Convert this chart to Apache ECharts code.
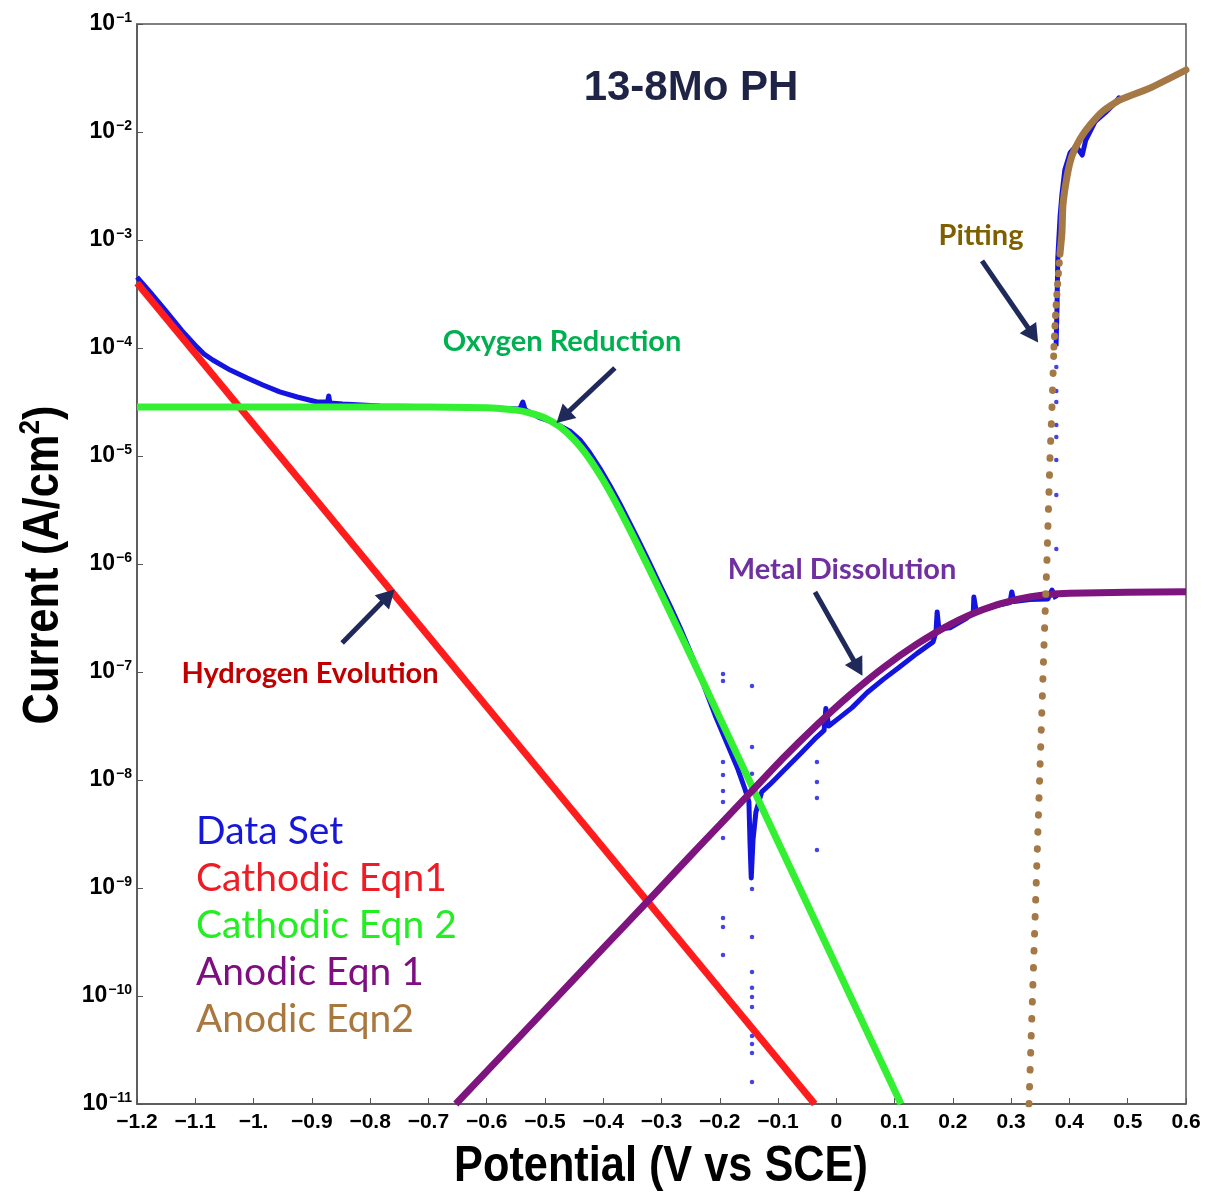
<!DOCTYPE html>
<html><head><meta charset="utf-8">
<script src="https://cdn.jsdelivr.net/npm/echarts@6/dist/echarts.min.js"></script>
<style>html,body{margin:0;padding:0;background:#fff}#c{width:1208px;height:1192px}</style>
</head><body><div id="c"></div>
<script>
// ---------- tick labels ----------
const xTickLabels = ['\u22121.2','\u22121.1','\u22121.','\u22120.9','\u22120.8','\u22120.7','\u22120.6','\u22120.5','\u22120.4','\u22120.3','\u22120.2','\u22120.1','0','0.1','0.2','0.3','0.4','0.5','0.6'];
const yTickExponents = ['\u221211','\u221210','\u22129','\u22128','\u22127','\u22126','\u22125','\u22124','\u22123','\u22122','\u22121'];
const yTickValues = [1e-11,1e-10,1e-9,1e-8,1e-7,1e-6,1e-5,1e-4,1e-3,1e-2,1e-1];

// ---------- Data Set (potential V vs SCE, current A/cm2) ----------
const dataSetMain = [
 [-1.200,4.54e-4],[-1.176,3.22e-4],[-1.152,2.25e-4],[-1.123,1.45e-4],[-1.097,1.02e-4],[-1.085,8.80e-5],[-1.070,7.74e-5],
 [-1.040,6.25e-5],[-1.011,5.27e-5],[-0.984,4.54e-5],[-0.955,3.92e-5],[-0.925,3.52e-5],[-0.891,3.16e-5],[-0.873,3.16e-5],
 [-0.871,3.60e-5],[-0.869,3.10e-5],[-0.847,3.03e-5],[-0.783,2.90e-5],[-0.663,2.84e-5],[-0.543,2.72e-5],[-0.538,3.16e-5],
 [-0.534,2.68e-5],[-0.508,2.25e-5],[-0.490,2.09e-5],[-0.474,1.90e-5],[-0.457,1.70e-5],[-0.440,1.41e-5],[-0.423,1.07e-5],
 [-0.4055,7.66e-6],[-0.388,5.28e-6],[-0.371,3.57e-6],[-0.354,2.37e-6],[-0.337,1.55e-6],[-0.320,1.01e-6],[-0.303,6.46e-7],
 [-0.285,4.07e-7],[-0.268,2.57e-7],[-0.251,1.55e-7],[-0.234,9.33e-8],[-0.208,3.98e-8],[-0.186,2.09e-8],[-0.169,1.26e-8],
 [-0.157,8.30e-9],[-0.150,6.30e-9],[-0.148,2.50e-9],[-0.146,1.24e-9],[-0.143,2.78e-9],[-0.138,5.06e-9],
 [-0.128,7.76e-9],[-0.114,9.10e-9],[-0.092,1.20e-8],[-0.062,1.74e-8],[-0.037,2.40e-8],[-0.021,2.88e-8],
 [-0.018,4.60e-8],[-0.013,3.16e-8],[0.006,3.80e-8],[0.027,4.68e-8],[0.053,6.46e-8],[0.080,8.50e-8],
 [0.109,1.12e-7],[0.138,1.48e-7],[0.166,1.90e-7],[0.171,2.35e-7],[0.173,3.60e-7],[0.176,2.50e-7],
 [0.195,2.57e-7],[0.224,3.16e-7],[0.235,3.60e-7],[0.236,4.94e-7],[0.240,3.65e-7],[0.264,4.00e-7],
 [0.298,4.40e-7],[0.301,5.51e-7],[0.305,4.50e-7],[0.332,4.70e-7],[0.363,4.75e-7],[0.370,5.74e-7],[0.377,4.75e-7]
];
const dataSetUpper = [
 [0.377,1.04e-4],[0.3786,2.25e-4],[0.380,6.81e-4],[0.384,1.67e-3],[0.387,2.61e-3],[0.392,4.45e-3],
 [0.401,6.40e-3],[0.411,7.41e-3],[0.422,6.12e-3],[0.428,8.43e-3],[0.444,1.25e-2],[0.461,1.50e-2],
 [0.478,1.85e-2],[0.485,2.07e-2],[0.492,1.94e-2]
];
const dataSetDots = [
 [-0.1945,9.57e-8],[-0.1945,8.26e-8],[-0.1945,1.47e-8],[-0.1945,1.11e-8],[-0.1945,7.91e-9],[-0.1945,6.25e-9],
 [-0.1945,2.90e-9],[-0.1945,5.27e-10],[-0.1945,4.36e-10],[-0.1945,2.40e-10],
 [-0.1447,7.41e-8],[-0.1447,2.02e-8],[-0.1447,1.14e-8],[-0.1447,1.70e-9],[-0.1447,9.79e-10],[-0.1447,3.52e-10],
 [-0.1447,1.67e-10],[-0.1447,1.19e-10],[-0.1447,9.79e-11],[-0.1447,7.91e-11],[-0.1447,4.27e-11],[-0.1447,3.60e-11],
 [-0.1447,2.97e-11],[-0.1447,1.60e-11],
 [-0.0333,1.47e-8],[-0.0333,9.57e-9],[-0.0333,6.81e-9],[-0.0333,2.25e-9],
 [0.3775,6.67e-5],[0.3775,4.00e-5],[0.3775,3.16e-5],[0.3775,1.94e-5],[0.3775,1.50e-5],[0.3775,9.18e-6],
 [0.3775,4.36e-6],[0.3775,1.38e-6]
];

// ---------- Fitted equations ----------
const cathodicEqn1 = [[-1.2,4.0e-4],[-0.037,1.0e-11]];
const cathodicEqn2 = [
 [-1.2,2.85e-5],[-0.8,2.85e-5],[-0.6,2.80e-5],[-0.55,2.66e-5],[-0.525,2.50e-5],[-0.5,2.25e-5],
 [-0.475,1.875e-5],[-0.45,1.42e-5],[-0.425,9.65e-6],[-0.4,5.96e-6],[-0.375,3.42e-6],[-0.35,1.87e-6],
 [-0.325,9.97e-7],[-0.3,5.24e-7],[-0.25,1.42e-7],[-0.2,3.78e-8],[-0.1,2.67e-9],[0.0,1.89e-10],[0.111,1.0e-11]
];
const anodicEqn1 = [
 [-0.653,1.0e-11],[-0.5,7.45e-11],[-0.4,2.77e-10],[-0.32,7.91e-10],[-0.25,2.0e-9],[-0.2,3.84e-9],
 [-0.148,7.59e-9],[-0.0916,1.59e-8],[-0.0332,3.24e-8],[0.0234,6.14e-8],[0.080,1.09e-7],[0.138,1.81e-7],
 [0.195,2.75e-7],[0.252,3.79e-7],[0.310,4.70e-7],[0.367,5.25e-7],[0.401,5.37e-7],[0.5,5.47e-7],[0.6,5.52e-7]
];
const anodicEqn2Lower = [[0.3306,1.0e-11],[0.3563,1.74e-7],[0.3614,1.09e-6],[0.3666,9.57e-6],[0.3700,2.78e-5],[0.3734,1.02e-4]];
const anodicEqn2Mid = [[0.3734,1.02e-4],[0.3769,2.40e-4],[0.3803,4.36e-4],[0.3837,7.41e-4]];
const anodicEqn2Upper = [
 [0.3837,7.41e-4],[0.3871,1.16e-3],[0.3889,2.11e-3],[0.3957,3.83e-3],[0.4043,6.00e-3],[0.4181,8.61e-3],
 [0.4352,1.16e-2],[0.4575,1.56e-2],[0.4867,1.98e-2],[0.538,2.55e-2],[0.6,3.75e-2]
];

// ---------- annotation arrows (tail, head) in data space ----------
const arrowOxygen = [[-0.380,6.53e-5],[-0.469,2.30e-5]];
const arrowHydrogen = [[-0.848,1.86e-7],[-0.769,5.06e-7]];
const arrowMetal = [[-0.0366,5.51e-7],[0.0372,1.09e-7]];
const arrowPitting = [[0.250,6.40e-4],[0.3375,1.32e-4]];

const legendLabels = ['Data Set','Cathodic Eqn1','Cathodic Eqn 2','Anodic Eqn 1','Anodic Eqn2'];
const legendColors = ['#1717d9','#ee1c24','#22ee22','#7f0f80','#a8783f'];

const C_BLUE = '#1414e0', C_RED = '#ff1c1c', C_GREEN = '#33f033', C_PURPLE = '#7e157e', C_BROWN = '#a47946';
const NAVY = '#1f2a5a';
const SANS = "'Liberation Sans', Arial, sans-serif";
const HUMAN = "Lato, 'Open Sans', sans-serif";

const chart = echarts.init(document.getElementById('c'));

const legendGraphics = legendLabels.map((t, i) => ({
  type: 'text', x: 196, y: 831 + i * 47,
  style: { text: t, fill: legendColors[i], font: '39px ' + HUMAN, verticalAlign: 'middle' }
}));

function arrowPair(a) { return [{ coord: a[0] }, { coord: a[1] }]; }

chart.setOption({
  animation: false,
  backgroundColor: '#fff',
  grid: { left: 137, right: 22, top: 24, bottom: 88, show: true, borderColor: '#555', borderWidth: 1.5 },
  xAxis: {
    type: 'value', min: -1.2, max: 0.6, interval: 0.1,
    axisLine: { show: true, onZero: false, lineStyle: { color: '#555', width: 1.5 } },
    axisTick: { show: true, inside: true, length: 6, lineStyle: { color: '#555', width: 1 } },
    splitLine: { show: false },
    axisLabel: {
      margin: 8, color: '#000', fontWeight: 'bold', fontSize: 21, fontFamily: SANS,
      showMinLabel: true, showMaxLabel: true, hideOverlap: false,
      formatter: v => xTickLabels[Math.round((v + 1.2) / 0.1)]
    }
  },
  yAxis: {
    type: 'log', logBase: 10, min: 1e-11, max: 1e-1,
    axisLine: { show: true, onZero: false, lineStyle: { color: '#555', width: 1.5 } },
    axisTick: { show: true, inside: true, length: 6, customValues: yTickValues, lineStyle: { color: '#555', width: 1 } },
    splitLine: { show: false },
    minorTick: { show: false },
    axisLabel: {
      margin: 5, showMinLabel: true, showMaxLabel: true, hideOverlap: false,
      customValues: yTickValues,
      formatter: v => '{b|10}{s|' + yTickExponents[Math.round(Math.log10(v)) + 11] + '}',
      rich: {
        b: { fontSize: 23, fontWeight: 'bold', fontFamily: SANS, color: '#000', lineHeight: 26 },
        s: { fontSize: 14, fontWeight: 'bold', fontFamily: SANS, color: '#000', lineHeight: 26, verticalAlign: 'top', padding: [0, 0, 0, 1] }
      }
    }
  },
  graphic: [
    { type: 'text', x: 691, y: 88, style: { text: '13-8Mo PH', fill: '#1f2446', font: 'bold 42px ' + SANS, align: 'center', verticalAlign: 'middle' } },
    { type: 'text', x: 661, y: 1167, scaleX: 0.866, style: { text: 'Potential (V vs SCE)', fill: '#000', font: 'bold 50px ' + SANS, align: 'center', verticalAlign: 'middle' } },
    { type: 'text', x: 44, y: 565, rotation: Math.PI / 2, scaleX: 0.87,
      style: { text: '{a|Current (A/cm}{s|2}{a|)}', align: 'center', verticalAlign: 'middle',
        rich: { a: { font: 'bold 50px ' + SANS, fill: '#000', lineHeight: 56 },
                s: { font: 'bold 30px ' + SANS, fill: '#000', lineHeight: 56, verticalAlign: 'top' } } } },
    { type: 'text', x: 562, y: 342, style: { text: 'Oxygen Reduction', fill: '#00b050', font: 'bold 29px ' + HUMAN, align: 'center', verticalAlign: 'middle' } },
    { type: 'text', x: 310, y: 674, style: { text: 'Hydrogen Evolution', fill: '#c00000', font: 'bold 29px ' + HUMAN, align: 'center', verticalAlign: 'middle' } },
    { type: 'text', x: 842, y: 570, style: { text: 'Metal Dissolution', fill: '#7030a0', font: 'bold 29px ' + HUMAN, align: 'center', verticalAlign: 'middle' } },
    { type: 'text', x: 981, y: 236, style: { text: 'Pitting', fill: '#7f6000', font: 'bold 29px ' + HUMAN, align: 'center', verticalAlign: 'middle' } }
  ].concat(legendGraphics),
  series: [
    { type: 'line', data: dataSetMain, showSymbol: false, silent: true, lineStyle: { color: C_BLUE, width: 5, join: 'round' } },
    { type: 'line', data: dataSetUpper, showSymbol: false, silent: true, lineStyle: { color: C_BLUE, width: 5, join: 'round' } },
    { type: 'scatter', data: dataSetDots, symbol: 'circle', symbolSize: 4.5, silent: true, itemStyle: { color: C_BLUE } },
    { type: 'line', data: cathodicEqn1, showSymbol: false, silent: true, lineStyle: { color: C_RED, width: 7 } },
    { type: 'line', data: cathodicEqn2, showSymbol: false, silent: true, smooth: 0.2, lineStyle: { color: C_GREEN, width: 7 } },
    { type: 'line', data: anodicEqn1, showSymbol: false, silent: true, smooth: 0.2, lineStyle: { color: C_PURPLE, width: 7 } },
    { type: 'line', data: anodicEqn2Lower, showSymbol: false, silent: true, lineStyle: { color: C_BROWN, width: 7, type: [0.5, 16.5], cap: 'round' } },
    { type: 'line', data: anodicEqn2Mid, showSymbol: false, silent: true, lineStyle: { color: C_BROWN, width: 7, type: [0.5, 10], cap: 'round' } },
    { type: 'line', data: anodicEqn2Upper, showSymbol: false, silent: true, smooth: 0.2, lineStyle: { color: C_BROWN, width: 7, cap: 'round' } },
    { type: 'line', data: [], silent: true,
      markLine: {
        silent: true, animation: false,
        symbol: ['none', 'triangle'], symbolSize: [20, 18],
        label: { show: false },
        lineStyle: { color: NAVY, width: 5, type: 'solid' },
        emphasis: { disabled: true },
        data: [arrowPair(arrowOxygen), arrowPair(arrowHydrogen), arrowPair(arrowMetal), arrowPair(arrowPitting)]
      } }
  ]
});
</script>
</body></html>
